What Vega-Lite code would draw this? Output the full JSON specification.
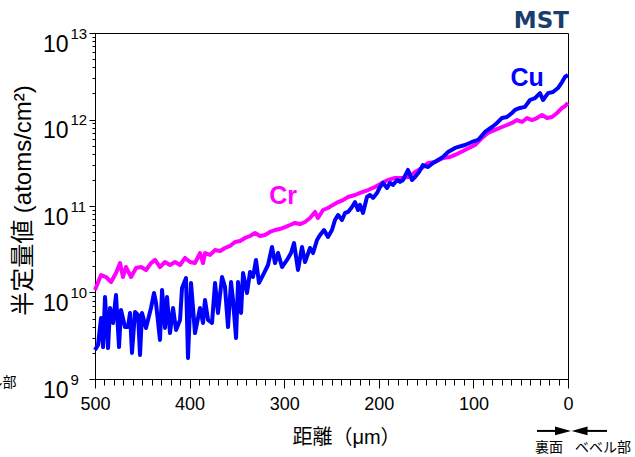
{
  "$schema": "https://vega.github.io/schema/vega-lite/v6.json",
  "width": 473,
  "height": 346,
  "autosize": "none",
  "padding": {"left": 95, "top": 33, "right": 67, "bottom": 78},
  "background": "white",
  "config": {
    "view": {"stroke": "black", "strokeWidth": 1},
    "axis": {"grid": false, "domainColor": "black", "tickColor": "black", "labelColor": "black", "titleColor": "black", "labelFont": "Liberation Sans", "titleFont": "Liberation Sans, Noto Sans CJK JP", "labelOverlap": false, "labelFlush": false, "labelBound": false, "titleFontWeight": "normal"}
  },
  "datasets": {
    "cu": [
      {"d":500.0,"v":2.16e9},{"d":496.8,"v":2.47e9},{"d":493.6,"v":5.07e9},{"d":491.5,"v":2.34e9},{"d":489.4,"v":8.87e9},{"d":486.2,"v":2.28e9},{"d":484.1,"v":6.62e9},{"d":480.9,"v":4.45e9},{"d":477.8,"v":9.35e9},{"d":474.6,"v":2.34e9},{"d":472.5,"v":6.28e9},{"d":468.3,"v":3.99e9},{"d":465.1,"v":3.99e9},{"d":463.0,"v":5.80e9},{"d":460.9,"v":2.00e9},{"d":457.7,"v":5.96e9},{"d":454.5,"v":5.50e9},{"d":452.4,"v":1.90e9},{"d":450.3,"v":5.80e9},{"d":446.1,"v":3.89e9},{"d":440.8,"v":6.62e9},{"d":437.6,"v":9.87e9},{"d":435.5,"v":7.56e9},{"d":431.3,"v":2.83e9},{"d":429.1,"v":1.07e10},{"d":426.0,"v":3.89e9},{"d":423.9,"v":8.87e9},{"d":420.7,"v":3.40e9},{"d":417.5,"v":6.62e9},{"d":414.3,"v":3.69e9},{"d":410.1,"v":4.81e9},{"d":408.0,"v":1.13e10},{"d":403.8,"v":1.47e10},{"d":401.7,"v":1.75e9},{"d":398.5,"v":1.29e10},{"d":394.3,"v":3.40e9},{"d":389.0,"v":6.62e9},{"d":385.8,"v":4.45e9},{"d":383.7,"v":8.19e9},{"d":380.5,"v":4.81e9},{"d":376.3,"v":4.45e9},{"d":373.1,"v":1.29e10},{"d":370.0,"v":5.80e9},{"d":365.7,"v":1.51e10},{"d":362.6,"v":1.16e10},{"d":359.4,"v":3.99e9},{"d":356.2,"v":1.32e10},{"d":354.1,"v":8.19e9},{"d":350.9,"v":2.98e9},{"d":348.8,"v":1.32e10},{"d":345.6,"v":5.80e9},{"d":343.5,"v":1.68e10},{"d":339.3,"v":9.87e9},{"d":336.1,"v":1.73e10},{"d":333.0,"v":1.51e10},{"d":329.8,"v":2.38e10},{"d":326.6,"v":1.29e10},{"d":322.4,"v":1.59e10},{"d":317.1,"v":2.08e10},{"d":312.9,"v":3.36e10},{"d":309.7,"v":2.19e10},{"d":306.5,"v":2.86e10},{"d":302.3,"v":1.97e10},{"d":297.0,"v":2.38e10},{"d":292.8,"v":2.86e10},{"d":289.6,"v":3.73e10},{"d":285.4,"v":1.82e10},{"d":281.2,"v":3.36e10},{"d":278.0,"v":2.25e10},{"d":272.7,"v":3.27e10},{"d":269.5,"v":2.86e10},{"d":265.3,"v":4.05e10},{"d":262.1,"v":4.62e10},{"d":257.9,"v":5.28e10},{"d":253.7,"v":4.38e10},{"d":249.5,"v":5.28e10},{"d":246.3,"v":6.89e10},{"d":243.1,"v":7.87e10},{"d":238.9,"v":6.89e10},{"d":235.7,"v":8.30e10},{"d":232.5,"v":8.53e10},{"d":228.3,"v":9.75e10},{"d":225.1,"v":1.11e11},{"d":222.0,"v":8.99e10},{"d":219.9,"v":1.03e11},{"d":216.7,"v":8.30e10},{"d":212.5,"v":1.27e11},{"d":209.3,"v":1.34e11},{"d":206.1,"v":1.24e11},{"d":201.9,"v":1.41e11},{"d":198.7,"v":1.66e11},{"d":195.6,"v":1.85e11},{"d":191.3,"v":1.62e11},{"d":188.1,"v":1.85e11},{"d":185.0,"v":1.75e11},{"d":180.7,"v":2.00e11},{"d":177.6,"v":1.90e11},{"d":174.4,"v":2.00e11},{"d":169.1,"v":2.61e11},{"d":164.9,"v":2.00e11},{"d":161.7,"v":2.16e11},{"d":157.5,"v":2.47e11},{"d":153.3,"v":2.98e11},{"d":148.0,"v":2.82e11},{"d":142.7,"v":3.14e11},{"d":137.4,"v":3.40e11},{"d":132.1,"v":3.69e11},{"d":126.8,"v":4.21e11},{"d":119.4,"v":4.69e11},{"d":108.9,"v":5.07e11},{"d":101.5,"v":5.50e11},{"d":95.1,"v":5.80e11},{"d":87.7,"v":7.18e11},{"d":80.3,"v":8.19e11},{"d":75.0,"v":9.12e11},{"d":69.8,"v":1.04e12},{"d":64.5,"v":1.07e12},{"d":59.2,"v":1.19e12},{"d":56.0,"v":1.29e12},{"d":50.7,"v":1.36e12},{"d":45.5,"v":1.40e12},{"d":40.2,"v":1.68e12},{"d":34.9,"v":1.77e12},{"d":29.6,"v":2.02e12},{"d":26.4,"v":1.68e12},{"d":21.1,"v":2.02e12},{"d":15.9,"v":2.08e12},{"d":10.6,"v":2.31e12},{"d":6.3,"v":2.71e12},{"d":3.2,"v":3.10e12},{"d":0,"v":3.27e12}
    ],
    "cr": [
      {"d":500.0,"v":1.07e10},{"d":495.7,"v":1.40e10},{"d":493.6,"v":1.59e10},{"d":488.3,"v":1.51e10},{"d":483.0,"v":1.32e10},{"d":477.8,"v":1.68e10},{"d":473.5,"v":2.19e10},{"d":470.4,"v":1.51e10},{"d":467.2,"v":1.97e10},{"d":461.9,"v":1.51e10},{"d":456.6,"v":1.92e10},{"d":451.3,"v":1.97e10},{"d":446.1,"v":1.82e10},{"d":440.8,"v":2.19e10},{"d":436.5,"v":2.38e10},{"d":431.3,"v":1.97e10},{"d":426.0,"v":2.25e10},{"d":420.7,"v":2.08e10},{"d":415.4,"v":2.25e10},{"d":410.1,"v":2.08e10},{"d":404.8,"v":2.51e10},{"d":399.5,"v":2.25e10},{"d":394.3,"v":2.19e10},{"d":389.0,"v":2.86e10},{"d":385.8,"v":2.19e10},{"d":383.7,"v":2.86e10},{"d":378.4,"v":2.72e10},{"d":373.1,"v":3.10e10},{"d":367.8,"v":3.02e10},{"d":362.6,"v":3.27e10},{"d":357.3,"v":3.45e10},{"d":352.0,"v":3.84e10},{"d":346.7,"v":3.94e10},{"d":341.4,"v":4.27e10},{"d":336.1,"v":4.50e10},{"d":330.8,"v":4.88e10},{"d":325.6,"v":4.50e10},{"d":320.3,"v":4.62e10},{"d":315.0,"v":5.01e10},{"d":309.7,"v":5.28e10},{"d":304.4,"v":5.42e10},{"d":299.1,"v":5.71e10},{"d":293.8,"v":6.03e10},{"d":288.6,"v":6.37e10},{"d":283.3,"v":6.19e10},{"d":278.0,"v":6.53e10},{"d":272.7,"v":7.26e10},{"d":267.4,"v":8.53e10},{"d":264.3,"v":7.26e10},{"d":259.0,"v":8.99e10},{"d":253.7,"v":9.48e10},{"d":248.4,"v":1.03e11},{"d":243.1,"v":1.11e11},{"d":237.8,"v":1.17e11},{"d":232.5,"v":1.27e11},{"d":225.1,"v":1.34e11},{"d":217.7,"v":1.45e11},{"d":211.4,"v":1.53e11},{"d":204.0,"v":1.66e11},{"d":196.6,"v":1.85e11},{"d":190.3,"v":2.00e11},{"d":182.9,"v":2.11e11},{"d":175.5,"v":2.11e11},{"d":169.1,"v":2.16e11},{"d":161.7,"v":2.47e11},{"d":154.3,"v":2.75e11},{"d":148.0,"v":3.14e11},{"d":140.6,"v":3.23e11},{"d":132.1,"v":3.59e11},{"d":124.7,"v":3.69e11},{"d":119.4,"v":3.89e11},{"d":108.9,"v":4.44e11},{"d":98.3,"v":5.07e11},{"d":90.9,"v":6.11e11},{"d":84.6,"v":6.98e11},{"d":77.2,"v":7.57e11},{"d":69.8,"v":8.19e11},{"d":64.5,"v":8.64e11},{"d":59.2,"v":9.12e11},{"d":53.9,"v":9.86e11},{"d":48.6,"v":9.36e11},{"d":43.3,"v":1.04e12},{"d":38.1,"v":9.86e11},{"d":32.8,"v":1.04e12},{"d":27.5,"v":1.13e12},{"d":22.2,"v":1.04e12},{"d":16.9,"v":1.07e12},{"d":11.6,"v":1.19e12},{"d":6.3,"v":1.36e12},{"d":3.2,"v":1.43e12},{"d":0,"v":1.55e12}
    ],
    "series": [
      {"t":"Cu","d":43.3,"v":3.02e12},
      {"t":"Cr","d":301.2,"v":1.31e11}
    ],
    "logo": [
      {"t":"MST","d":-1.0,"v":1.36e13}
    ],
    "notes": [
      {"t":"裏面","d":20.1,"v":1.6e8},
      {"t":"ベベル部","d":-37.0,"v":1.6e8},
      {"t":"ベル部","d":605.1,"v":9.0e8}
    ],
    "arrowlines": [
      {"d":32.8,"d2":13.7,"v":2.51e8},
      {"d":-20.1,"d2":-41.2,"v":2.51e8}
    ],
    "heads": [
      {"dir":"right","d":5.3,"v":2.51e8},
      {"dir":"left","d":-12.2,"v":2.51e8}
    ]
  },
  "layer": [
    {
      "data": {"name": "cr"},
      "mark": {"type": "line", "color": "#FF00FF", "strokeWidth": 4, "strokeJoin": "round"},
      "encoding": {
        "x": {"field": "d", "type": "quantitative", "scale": {"domain": [0, 500], "reverse": true, "nice": false, "zero": false},
          "axis": {"orient": "bottom", "values": [0, 100, 200, 300, 400, 500], "tickSize": 9, "labelFontSize": 18, "labelPadding": 7, "title": "距離（μm）", "titleFontSize": 20, "titleX": 251, "titleY": 58, "titleBaseline": "middle", "titleAlign": "center"}},
        "y": {"field": "v", "type": "quantitative", "scale": {"type": "log", "domain": [1e9, 1e13], "nice": false},
          "axis": {"orient": "left", "values": [1e9, 1e10, 1e11, 1e12, 1e13], "labelExpr": "'10'", "tickSize": 6, "labelFontSize": 23, "labelPadding": 21, "labelBaseline": "middle", "labelOffset": 11, "title": "半定量値 (atoms/cm²)", "titleFontSize": 24, "titleX": -72, "titleY": 167, "titleBaseline": "middle", "titleAlign": "center", "titleAngle": 270}}
      }
    },
    {
      "data": {"name": "cu"},
      "mark": {"type": "line", "color": "#0000FF", "strokeWidth": 4, "strokeJoin": "round"},
      "encoding": {
        "x": {"field": "d", "type": "quantitative",
          "axis": {"orient": "bottom", "values": [0,10,20,30,40,50,60,70,80,90,100,110,120,130,140,150,160,170,180,190,200,210,220,230,240,250,260,270,280,290,300,310,320,330,340,350,360,370,380,390,400,410,420,430,440,450,460,470,480,490,500], "tickSize": 6, "labels": false, "domain": false, "title": null}},
        "y": {"field": "v", "type": "quantitative",
          "axis": {"orient": "left", "values": [1e9, 1e10, 1e11, 1e12, 1e13], "labelExpr": "'' + round(log(datum.value) / LN10)", "ticks": false, "tickSize": 0, "domain": false, "labelFontSize": 15, "labelPadding": 25, "labelAlign": "left", "labelBaseline": "middle", "labelOffset": 0, "title": null}}
      }
    },
    {
      "data": {"name": "arrowlines"},
      "mark": {"type": "rule", "color": "black", "strokeWidth": 2},
      "encoding": {
        "x": {"field": "d", "type": "quantitative", "axis": null},
        "x2": {"field": "d2"},
        "y": {"field": "v", "type": "quantitative",
          "axis": {"orient": "left", "values": [2e9,3e9,4e9,5e9,6e9,7e9,8e9,9e9,2e10,3e10,4e10,5e10,6e10,7e10,8e10,9e10,2e11,3e11,4e11,5e11,6e11,7e11,8e11,9e11,2e12,3e12,4e12,5e12,6e12,7e12,8e12,9e12], "tickSize": 3, "labels": false, "domain": false, "title": null}}
      }
    },
    {
      "data": {"name": "heads"},
      "mark": {"type": "point", "filled": true, "color": "black", "opacity": 1, "size": 256},
      "encoding": {
        "x": {"field": "d", "type": "quantitative", "axis": null},
        "y": {"field": "v", "type": "quantitative", "axis": null},
        "shape": {"field": "dir", "type": "nominal", "legend": null, "scale": {"domain": ["right", "left"], "range": ["M -1 -0.55 L 1 0 L -1 0.55 Z", "M 1 -0.55 L -1 0 L 1 0.55 Z"]}}
      }
    },
    {
      "data": {"name": "series"},
      "mark": {"type": "text", "fontSize": 25, "font": "Liberation Sans", "fontWeight": "bold", "align": "center", "baseline": "middle"},
      "encoding": {
        "x": {"field": "d", "type": "quantitative", "axis": null},
        "y": {"field": "v", "type": "quantitative", "axis": null},
        "text": {"field": "t"},
        "color": {"field": "t", "type": "nominal", "legend": null, "scale": {"domain": ["Cu", "Cr"], "range": ["#0000FF", "#FF00FF"]}}
      }
    },
    {
      "data": {"name": "logo"},
      "mark": {"type": "text", "fontSize": 23, "font": "DejaVu Sans", "fontWeight": "bold", "color": "#1b3d6e", "align": "right", "baseline": "middle"},
      "encoding": {
        "x": {"field": "d", "type": "quantitative", "axis": null},
        "y": {"field": "v", "type": "quantitative", "axis": null},
        "text": {"field": "t"}
      }
    },
    {
      "data": {"name": "notes"},
      "mark": {"type": "text", "fontSize": 14, "font": "Noto Sans CJK JP", "color": "black", "align": "center", "baseline": "middle"},
      "encoding": {
        "x": {"field": "d", "type": "quantitative", "axis": null},
        "y": {"field": "v", "type": "quantitative", "axis": null},
        "text": {"field": "t"}
      }
    }
  ],
  "resolve": {"axis": {"x": "independent", "y": "independent"}}
}
